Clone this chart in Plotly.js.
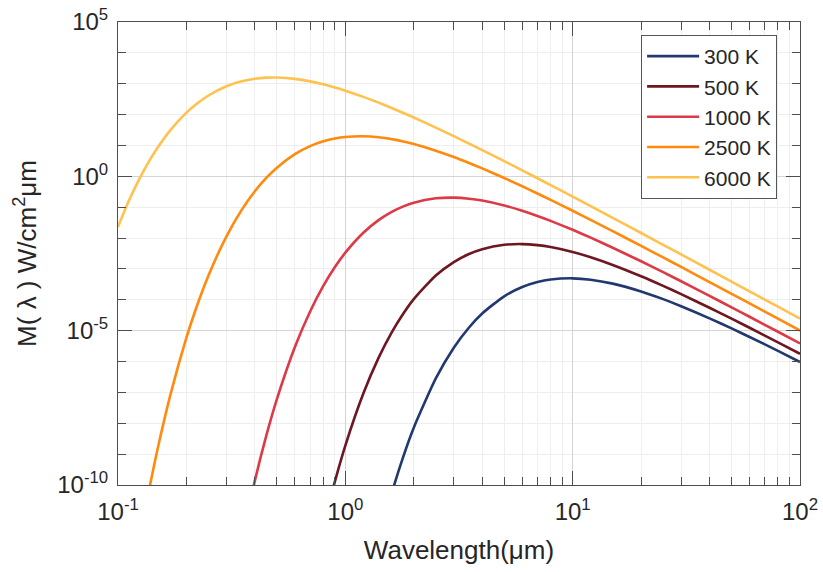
<!DOCTYPE html>
<html>
<head>
<meta charset="utf-8">
<script src="https://cdn.plot.ly/plotly-3.0.1.min.js"></script>
<style>html,body{margin:0;padding:0;background:#fff;}#chart{width:823px;height:572px;}</style>
</head>
<body>
<div id="chart"></div>
<script>
// Wavelengths (µm) and spectral exitance M(λ) (W/cm²µm)
const wl6000 = [0.1,0.11,0.12,0.13,0.14,0.15,0.17,0.2,0.22,0.25,0.3,0.35,0.4,0.45,0.5,0.6,0.7,0.8,0.9,1,1.2,1.4,1.6,1.8,2,2.5,3,3.5,4,5,6,7,8,10,12,15,20,25,30,40,50,60,80,100];
const m6000 = [0.0230,0.126,0.501,1.565,4.03,8.94,31.4,115.6,213,416,828,1201,1452,1573,1587,1434,1191,954,756,596,375.5,243.7,163.4,113,80.4,37.9,20.0,11.5,7.08,3.10,1.558,0.867,0.520,0.220,0.1082,0.0452,0.01462,0.00606,0.002946,9.41e-4,3.88e-4,1.877e-4,5.97e-5,2.45e-5];

const wl2500 = [0.12,0.13,0.14,0.15,0.17,0.2,0.22,0.25,0.3,0.35,0.4,0.45,0.5,0.6,0.7,0.8,0.9,1,1.2,1.4,1.6,1.8,2,2.5,3,3.5,4,5,6,7,8,10,12,15,20,25,30,40,50,60,80,100];
const m2500 = [3.5e-13,9.5e-12,1.55e-10,1.70e-9,8.3e-8,5.93e-6,5.04e-5,6.13e-4,0.01142,0.0819,0.328,0.901,1.91,5.23,9.52,13.66,16.89,18.92,19.94,18.46,16.02,13.43,11.1,6.78,4.22,2.71,1.808,0.882,0.476,0.278,0.1726,0.0766,0.0389,0.01677,0.00558,0.002357,0.001159,3.756e-4,1.561e-4,7.61e-5,2.436e-5,1.005e-5];

const wl1000 = [0.35,0.4,0.45,0.5,0.6,0.7,0.8,0.9,1,1.2,1.4,1.6,1.8,2,2.5,3,3.5,4,5,6,7,8,10,12,15,20,25,30,40,50,60,80,100];
const m1000 = [1.6e-12,1.39e-10,4.2e-9,6.07e-8,2.95e-6,4.19e-5,2.81e-4,0.00115,0.00336,0.01486,0.0381,0.0707,0.1065,0.140,0.1938,0.2043,0.189,0.1638,0.1136,0.0766,0.0521,0.0361,0.01852,0.01033,0.00487,0.001768,7.84e-4,3.985e-4,1.343e-4,5.71e-5,2.825e-5,9.22e-6,3.85e-6];

const wl500 = [0.8,0.9,1,1.2,1.4,1.6,1.8,2,2.5,3,3.5,4,5,6,7,8,10,12,15,20,25,30,40,50,60,80,100];
const m500 = [4.4e-12,1.31e-10,1.9e-9,9.2e-8,1.31e-6,8.78e-6,3.59e-5,1.05e-4,6.12e-4,0.001674,0.003047,0.00437,0.00605,0.00638,0.0059,0.00512,0.00355,0.002393,0.00135,5.79e-4,2.823e-4,1.524e-4,5.52e-5,2.449e-5,1.244e-5,4.2e-6,1.785e-6];

const wl300 = [1.4,1.6,1.8,2,2.5,3,3.5,4,5,6,7,8,10,12,15,20,25,30,40,50,60,80,100];
const m300 = [1.48e-12,5.45e-11,8.46e-10,7.18e-9,2.84e-7,2.80e-6,1.268e-5,3.61e-5,1.30e-4,2.587e-4,3.753e-4,4.54e-4,4.96e-4,4.48e-4,3.34e-4,1.862e-4,1.05e-4,6.21e-5,2.51e-5,1.184e-5,6.25e-6,2.213e-6,9.68e-7];

const seriesNames = ['300 K','500 K','1000 K','2500 K','6000 K'];
const seriesColors = ['#22396f','#6e1722','#dc3a46','#ff8a0d','#ffc24e'];
const xs = [wl300, wl500, wl1000, wl2500, wl6000];
const ys = [m300, m500, m1000, m2500, m6000];

const xTickVals = [0.1, 1, 10, 100];
const xTickText = ['10<sup>-1</sup>','10<sup>0</sup>','10<sup>1</sup>','10<sup>2</sup>'];
const yTickVals = [1e-10, 1e-5, 1, 1e5];
const yTickText = ['10<sup>-10</sup>','10<sup>-5</sup>','10<sup>0</sup>','10<sup>5</sup>'];

const xMinor = [];
for (let d = -1; d < 2; d++) for (let k = 2; k <= 9; k++) xMinor.push(k * Math.pow(10, d));
const yMinor = [];
for (let d = -10; d <= 5; d++) if (d % 5 !== 0) yMinor.push(Math.pow(10, d));

const FONT = 'Liberation Sans, Arial, sans-serif';

const traces = seriesNames.map((n, i) => ({
  x: xs[i], y: ys[i], name: n, type: 'scatter', mode: 'lines',
  legendgroup: 'g' + i,
  line: {color: seriesColors[i], width: 2.6, shape: 'spline', smoothing: 0.6}
}));

const axisCommon = {
  type: 'log', showline: true, linecolor: '#4d4d4d', linewidth: 1, mirror: 'ticks',
  ticks: 'inside', ticklen: 14, tickwidth: 1, tickcolor: '#4d4d4d',
  showgrid: true, gridcolor: '#d4d4d4', gridwidth: 1, zeroline: false,
  tickfont: {family: FONT, size: 24, color: '#262626'},
  tickmode: 'array'
};

const layout = {
  width: 823, height: 572,
  margin: {l: 118, r: 23, t: 22, b: 87},
  paper_bgcolor: '#fff', plot_bgcolor: '#fff',
  font: {family: FONT, color: '#262626'},
  showlegend: true,
  legend: {
    x: 0.767, y: 0.972, xanchor: 'left', yanchor: 'top',
    bgcolor: '#fff', bordercolor: '#555', borderwidth: 1,
    font: {size: 21, color: '#262626', family: FONT},
    tracegroupgap: 0, itemwidth: 52
  },
  xaxis: Object.assign({}, axisCommon, {
    range: [-1, 2], tickvals: xTickVals, ticktext: xTickText, ticklabelstandoff: 5,
    minor: {tickmode: 'array', tickvals: xMinor, ticks: 'inside', ticklen: 8, tickcolor: '#4d4d4d', showgrid: true, gridcolor: '#eeeeee'},
    title: {text: 'Wavelength(μm)', font: {size: 26, color: '#262626'}, standoff: 17}
  }),
  yaxis: Object.assign({}, axisCommon, {
    range: [-10, 5], tickvals: yTickVals, ticktext: yTickText, ticklabelstandoff: 4,
    minor: {tickmode: 'array', tickvals: yMinor, ticks: 'inside', ticklen: 8, tickcolor: '#4d4d4d', showgrid: true, gridcolor: '#eeeeee'},
    title: {text: 'M( λ ) W/cm<sup>2</sup>μm', font: {size: 26, color: '#262626'}, standoff: 13}
  })
};

Plotly.newPlot('chart', traces, layout, {displayModeBar: false, staticPlot: true});
</script>
</body>
</html>
